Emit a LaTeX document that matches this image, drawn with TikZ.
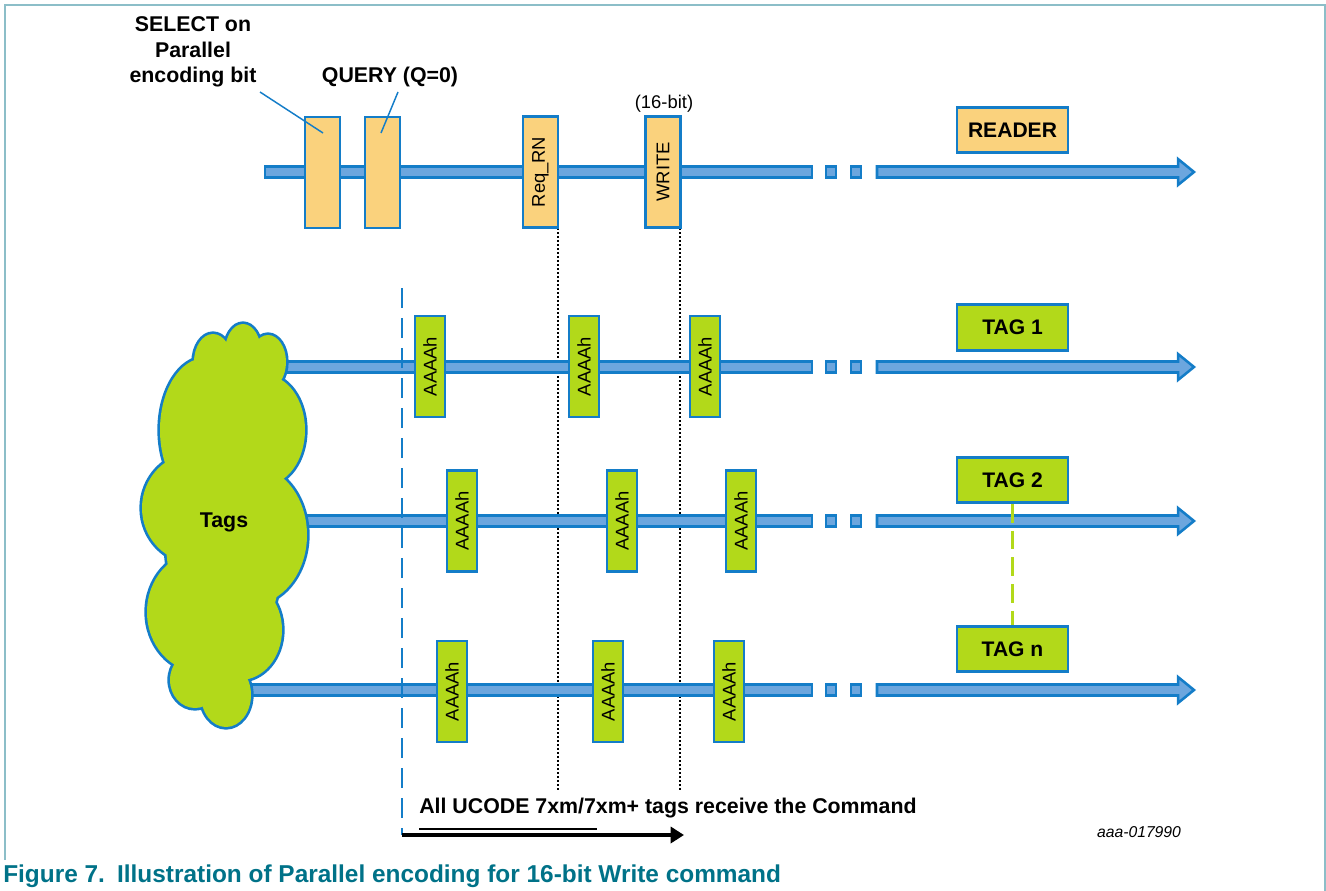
\documentclass[tikz,border=0pt]{standalone}
\usepackage{fontspec}
\setmainfont{Liberation Sans}
\usetikzlibrary{arrows.meta,calc}
\definecolor{tubeblue}{RGB}{20,125,200}
\definecolor{tubefill}{RGB}{108,166,222}
\definecolor{orangefill}{RGB}{250,210,125}
\definecolor{greenfill}{RGB}{178,217,26}
\definecolor{captionteal}{RGB}{0,114,136}
\definecolor{framecol}{RGB}{140,190,200}
\newcommand{\mytube}[2]{%
 \pgfmathsetmacro{\ya}{#2-5.5}\pgfmathsetmacro{\yb}{#2+5.5}%
 \pgfmathsetmacro{\yc}{#2-13}\pgfmathsetmacro{\yd}{#2+13}%
 \draw[tube] (#1,\ya) rectangle (812,\yb);
 \draw[tube] (826,\ya) rectangle (836,\yb);
 \draw[tube] (851,\ya) rectangle (861,\yb);
 \draw[tube] (877,\ya) -- (1178,\ya) -- (1178,\yc) -- (1194,#2) -- (1178,\yd) -- (1178,\yb) -- (877,\yb) -- cycle;}
\tikzset{
  tube/.style={fill=tubefill, draw=tubeblue, line width=1.9pt, line join=miter},
  bigbold/.style={font=\bfseries\fontsize{16}{19}\selectfont},
  cmdbox/.style={rotate=90, draw=tubeblue, fill=orangefill, line width=2.2pt, minimum width=83.25pt, minimum height=26.25pt, inner sep=0pt, font=\fontsize{13.8}{16}\selectfont},
  aaaa/.style={rotate=90, draw=tubeblue, fill=greenfill, line width=2.2pt, minimum width=75.75pt, minimum height=22.5pt, inner sep=0pt, font=\fontsize{13.8}{16}\selectfont},
  rolebox/.style={draw=tubeblue, line width=2.2pt, minimum width=83.25pt, minimum height=34pt, inner sep=0pt, font=\bfseries\fontsize{15.8}{19}\selectfont},
  dotline/.style={black, line width=0.9pt, dash pattern=on 1.5pt off 1.5pt},
  leader/.style={tubeblue, line width=1.1pt},
  cloudline/.style={draw=tubeblue, line width=4pt},
}
\begin{document}
\begin{tikzpicture}[x=0.75pt,y=-0.75pt]
\useasboundingbox (0,0) rectangle (1326,891);
% frame
\draw[framecol, line width=1.2pt] (5,860) -- (5,5) -- (1325,5) -- (1325,891);

% dotted guide lines
\coordinate (d1top) at (558,228); \coordinate (d1bot) at (558,790);
\coordinate (d2top) at (680,228); \coordinate (d2bot) at (680,790);
\draw[dotline] (d1top) -- (d1bot);
\draw[dotline] (d2top) -- (d2bot);

% timelines
\mytube{265}{172}
\mytube{225}{367}
\mytube{225}{521}
\mytube{225}{690}

% blue dashed start line
\coordinate (vtop) at (402,288); \coordinate (vbot) at (402,835);
\draw[tubeblue, line width=2.2pt, dash pattern=on 15pt off 7.5pt] (vtop) -- (vbot);

% reader commands
\node[cmdbox] (sel) at (322.5,172.5) {};
\node[cmdbox] (qry) at (382.5,172.5) {};
\node[cmdbox] (reqrn) at (540.5,172) {Req\_RN};
\node[cmdbox] (wr) at (663,172) {WRITE};
\node[font=\fontsize{13.8}{16}\selectfont] (bit16) at (664,104) {(16-bit)};

\node[bigbold, align=center] (sellbl) at (193,52) {SELECT on\\Parallel\\encoding bit};
\node[bigbold] (qrylbl) at (390,77) {QUERY (Q=0)};
\coordinate (l1a) at (260,92); \coordinate (l1b) at (323,133);
\coordinate (l2a) at (398,92); \coordinate (l2b) at (381,133);
\draw[leader] (l1a) -- (l1b);
\draw[leader] (l2a) -- (l2b);

% role boxes
\node[rolebox, fill=orangefill] (reader) at (1012.5,130) {READER};
\node[rolebox, fill=greenfill] (tag1) at (1012.5,327.5) {TAG 1};
\node[rolebox, fill=greenfill] (tag2) at (1012.5,480) {TAG 2};
\node[rolebox, fill=greenfill] (tagn) at (1012.5,649) {TAG n};
\draw[greenfill, line width=2.2pt, dash pattern=on 14pt off 6pt] (tag2.south) -- (tagn.north);

% tag replies
\node[aaaa] (a11) at (430,366.5) {AAAAh};
\node[aaaa] (a12) at (584,366.5) {AAAAh};
\node[aaaa] (a13) at (705,366.5) {AAAAh};
\node[aaaa] (a21) at (462,521) {AAAAh};
\node[aaaa] (a22) at (622,521) {AAAAh};
\node[aaaa] (a23) at (741,521) {AAAAh};
\node[aaaa] (a31) at (452,691.5) {AAAAh};
\node[aaaa] (a32) at (608,691.5) {AAAAh};
\node[aaaa] (a33) at (729,691.5) {AAAAh};

% cloud
\def\cloudlist{213/362/19/28, 243/352/18/28, 268/362/18/27, 205/430/45/72, 265/430/40/55, 195/508/53/55, 250/535/57/70, 200/612/53/60, 240/630/42/50, 195/680/25/28, 226/695/25/32, 225/520/60/150, 243/392/30/22}
\foreach \cx/\cy/\rx/\ry in \cloudlist {\draw[cloudline] (\cx,\cy) ellipse [x radius=\rx, y radius=\ry];}
\foreach \cx/\cy/\rx/\ry in \cloudlist {\fill[greenfill] (\cx,\cy) ellipse [x radius=\rx, y radius=\ry];}
\node[bigbold] (cloud) at (224,522) {Tags};

% bottom annotation
\node[bigbold, anchor=west, inner sep=0pt] (allcmd) at (419,808) {All UCODE 7xm/7xm+ tags receive the Command};
\coordinate (ula) at (419,829); \coordinate (ulb) at (597,829);
\draw[black, line width=1.5pt] (ula) -- (ulb);
\coordinate (arrs) at (402,835); \coordinate (arre) at (684,835);
\draw[black, line width=3.2pt, -{Triangle[length=10pt,width=12pt]}] (arrs) -- (arre);

\node[font=\itshape\fontsize{11.8}{14}\selectfont] (ref) at (1139,832) {aaa-017990};

% caption
\node[anchor=west, inner sep=0pt, text=captionteal, font=\bfseries\fontsize{18.3}{22}\selectfont] (caption) at (3,876) {Figure 7.\hspace{0.5em}Illustration of Parallel encoding for 16-bit Write command};
\end{tikzpicture}
\end{document}
